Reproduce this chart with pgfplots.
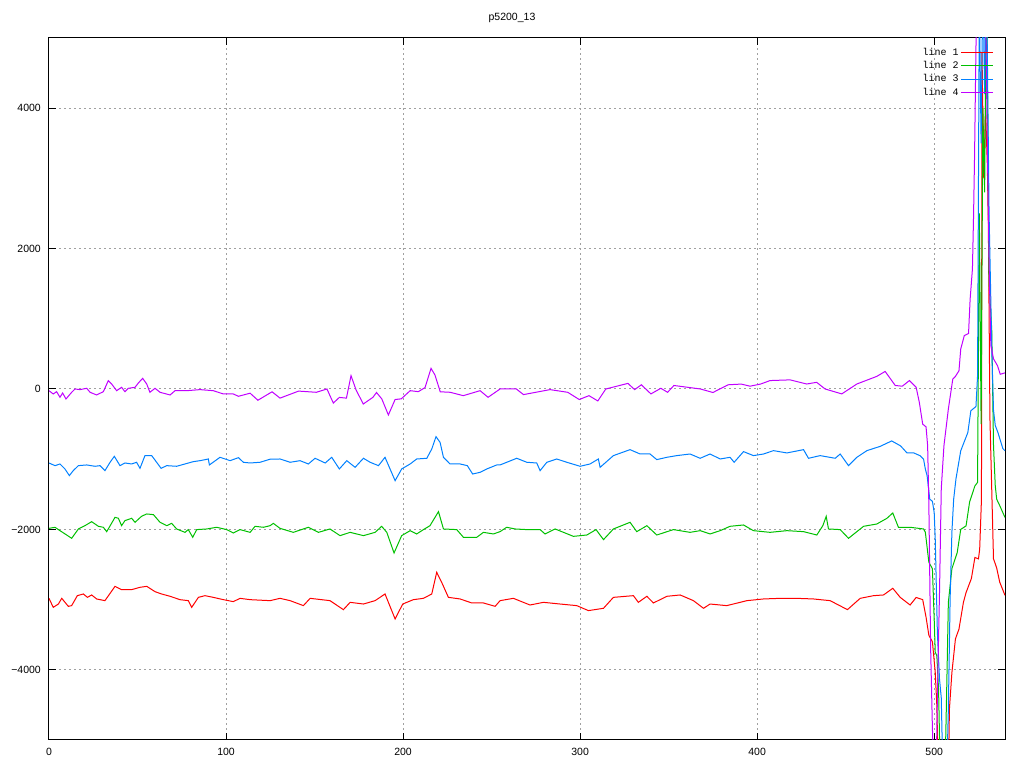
\documentclass[border=0pt]{standalone}
\usepackage{fontspec}
\setmainfont{Liberation Sans}
\newfontfamily\legfont{Liberation Mono}
\usepackage{pgfplots}
\pgfplotsset{compat=1.18}
\definecolor{gpred}{RGB}{255,0,0}
\definecolor{gpgreen}{RGB}{0,192,0}
\definecolor{gpblue}{RGB}{0,128,255}
\definecolor{gpmag}{RGB}{192,0,255}
\definecolor{gpgrid}{RGB}{160,160,160}

\begin{document}
\begin{tikzpicture}
% canvas 1024x768 px, 1px = 1bp, axis box from (49,38) to (1005,740)
\path[use as bounding box] (-49bp,-28bp) rectangle (975bp,740bp);
\begin{axis}[
    at={(0,0)}, anchor=south west,
    scale only axis,
    width=956bp, height=702bp,
    xmin=0, xmax=540,
    ymin=-5000, ymax=5000,
    xtick={0,100,200,300,400,500},
    ytick={-4000,-2000,0,2000,4000},
    yticklabels={−4000,−2000,0,2000,4000},
    scaled y ticks=false,
    tick align=inside,
    major tick length=7bp,
    tick style={black, line width=1bp},
    axis line style={black, line width=1bp},
    grid=major,
    grid style={gpgrid, line width=1bp, dash pattern=on 2bp off 3bp},
    /pgf/number format/assume math mode=true,
    tick label style={font=\fontsize{10.5bp}{12bp}\selectfont},
    yticklabel style={inner sep=0pt, xshift=-8bp},
    xticklabel style={inner sep=0pt, yshift=-8bp},
    every axis plot/.append style={line width=1bp},
    legend style={draw=none, fill=none, at={(rel axis cs:1,1)}, anchor=north east,
        xshift=-8bp, yshift=-6bp, font=\legfont\fontsize{10bp}{11bp}\selectfont,
        nodes={inner sep=2.2bp}},
    legend plot pos=right,
    legend cell align=right,
    legend image code/.code={\draw[#1] (0bp,0bp) -- (32bp,0bp);},
]
% line 1
\addplot[gpred] coordinates {
(0,-2982) (2.4,-3110) (5.3,-3063) (7.2,-2982) (10.9,-3096) (12.8,-3086) (16,-2944)
(19.4,-2920) (21.7,-2968) (24.1,-2934) (26.9,-2991) (31.6,-3015) (37.3,-2811) (41,-2858)
(46.7,-2858) (51.4,-2825) (55.2,-2811) (59.9,-2887) (63.6,-2920) (68.4,-2953) (74,-3001)
(78.7,-3015) (80.6,-3110) (84.4,-2968) (88.1,-2944) (92.8,-2968) (98.5,-3001) (104.1,-3029)
(107.9,-2982) (113.6,-3001) (124.9,-3015) (130.5,-2982) (136.2,-3015) (143.7,-3086)
(147.5,-2982) (158.7,-3015) (166.3,-3143) (170.1,-3039) (177.6,-3063) (184.2,-3015)
(189.8,-2920) (195.5,-3276) (199.8,-3063) (205.8,-3001) (211.5,-2982) (216.2,-2920)
(219,-2611) (221.8,-2754) (225.6,-2968) (232.2,-2991) (238.8,-3048) (245.4,-3048)
(252,-3096) (254.8,-3015) (262.3,-2982) (271.7,-3077) (279.3,-3039) (288.7,-3063)
(298.1,-3086) (304.7,-3157) (313.2,-3124) (318.8,-2968) (330.1,-2944) (332.9,-3039)
(337.7,-2953) (341.4,-3048) (349,-2953) (356.5,-2934) (364,-3015) (369.7,-3124)
(373.4,-3063) (382.8,-3086) (390.4,-3039) (394.2,-3015) (403.6,-2991) (413,-2982)
(422.4,-2982) (431.8,-2991) (441.2,-3015) (451,-3143) (458.2,-2982) (465.7,-2944)
(471.4,-2934) (476.6,-2839) (480.8,-2968) (486.4,-3077) (489.8,-2970) (493.5,-3000)
(495.4,-3250) (497,-3510) (499,-3600) (500.6,-4040) (501.5,-4510) (502.4,-5600)
(508,-5600) (508.6,-4560) (510,-4040) (512,-3560) (514,-3420) (516.5,-3040) (518,-2900)
(521,-2700) (523,-2400) (525,-2420) (525.7,-2280) (526.7,-1570) (527,4800) (528,3000)
(529,4000) (530,3200) (530.6,2300) (531.5,-430) (533.5,-2420) (534.5,-2490)
(535.3,-2550) (537,-2750) (540,-2940)
};
\addlegendentry{line 1}
% line 2
\addplot[gpgreen] coordinates {
(0,-1985) (3.4,-1970) (6.2,-2018) (10,-2080) (12.8,-2127) (16.6,-1994) (20.3,-1947)
(24.1,-1890) (27.9,-1956) (30.7,-1970) (32.6,-2032) (37.3,-1828) (39.2,-1842) (41,-1947)
(42.9,-1875) (46.7,-1842) (48.6,-1899) (52.3,-1813) (55.2,-1780) (59,-1790) (62.7,-1899)
(66.5,-1947) (69.3,-1914) (72.1,-1994) (76.8,-2042) (78.7,-2003) (81.2,-2113)
(83.4,-2003) (89.1,-1994) (94.7,-1970) (100.4,-2003) (104.1,-2051) (107.9,-2003)
(113.6,-2042) (116.4,-1956) (121.1,-1970) (124.9,-1947) (126.7,-1914) (130.5,-1985)
(138,-2042) (146.5,-1970) (152.2,-2042) (158.7,-1994) (164.4,-2089) (170.1,-2042)
(177.6,-2089) (184.2,-2042) (187.9,-1956) (190.8,-2042) (194.9,-2336) (199.2,-2089)
(204,-2018) (207.7,-2065) (211.5,-2003) (215.2,-1947) (220,-1747) (222.8,-1994)
(230.3,-2003) (234.1,-2113) (241.6,-2113) (245.4,-2042) (251,-2065) (254.8,-2032)
(258.5,-1970) (263.3,-1994) (269.9,-2003) (277.4,-2003) (280.2,-2065) (285.9,-1994)
(296.2,-2099) (303.8,-2080) (309,-2003) (313.2,-2146) (318.8,-1994) (328.2,-1899)
(332,-2032) (337.7,-1947) (343.3,-2080) (352.7,-2003) (362.1,-2042) (367.8,-2018)
(373.4,-2065) (379.1,-2018) (384.7,-1956) (392.3,-1937) (397.9,-2018) (407.3,-2042)
(416.8,-2018) (426.2,-2032) (433.7,-2080) (437.1,-1947) (439,-1814) (440.3,-1994)
(446.9,-2003) (451.6,-2127) (460.1,-1956) (467.6,-1923) (473.3,-1842) (476.6,-1766)
(479.8,-1970) (486.4,-1970) (494,-1994) (495,-2040) (497,-2470) (499,-2560)
(500,-3280) (500.6,-3750) (501.5,-3800) (502.5,-4300) (503.5,-5600) (506,-5600)
(507,-4370) (508,-3040) (510,-2560) (513,-2330) (515,-2000) (518,-1950) (520,-1610)
(523,-1380) (524.5,-1330) (525.5,2500) (526.5,-500) (527.5,4000) (528.5,2800)
(529.5,6000) (531,1500) (532.5,850) (533.5,-800) (534.5,-1380) (535.3,-1570)
(537,-1660) (540,-1830)
};
\addlegendentry{line 2}
% line 3
\addplot[gpblue] coordinates {
(0,-1054) (3.4,-1092) (6.2,-1068) (9,-1139) (11.5,-1234) (13.7,-1163) (16.6,-1092)
(21.3,-1082) (26,-1101) (28.8,-1092) (31.6,-1163) (34.5,-1044) (36.9,-959) (40.1,-1092)
(42.9,-1054) (46.7,-1068) (49.5,-1044) (51.4,-1130) (54.2,-949) (58,-949) (60.8,-1044)
(63.3,-1130) (66.5,-1092) (72.1,-1101) (76.8,-1068) (81.5,-1035) (85.3,-1021) (90,-997)
(90.6,-1082) (96.6,-973) (102.3,-1021) (107,-978) (109.8,-1044) (113.6,-1054)
(119.2,-1044) (124.9,-1000) (130.5,-997) (136.2,-1044) (141.8,-1021) (146.5,-1068)
(150.3,-987) (156,-1054) (159.7,-973) (164,-1139) (168.2,-1021) (172.9,-1116)
(177.6,-987) (181.4,-1044) (186.1,-1092) (189.8,-973) (195.5,-1306) (199.2,-1139)
(204,-1068) (207.7,-997) (213.4,-987) (216.2,-855) (218.6,-679) (220.9,-760)
(222.8,-973) (226.5,-1068) (232.2,-1068) (236.3,-1092) (239.3,-1211) (243.5,-1187)
(247.3,-1139) (252.9,-1082) (254.8,-1082) (264.2,-987) (269.9,-1044) (275.5,-1054)
(277.4,-1163) (281.2,-1044) (286.8,-997) (292.5,-1044) (300,-1101) (305.6,-1068)
(310.3,-997) (311.3,-1116) (318.8,-949) (328.2,-864) (333.9,-926) (339.5,-926)
(343.3,-1006) (349,-973) (354.6,-949) (362.1,-926) (367.8,-987) (373.4,-926)
(379.1,-997) (384.7,-973) (387,-1044) (392.3,-892) (397.9,-949) (403.6,-926)
(409.2,-878) (416.8,-911) (426.2,-864) (429,-987) (435.6,-949) (444.1,-987)
(446.9,-926) (451.6,-1092) (456.3,-973) (462,-878) (469.5,-817) (476,-740) (481,-810)
(484.6,-910) (488.4,-910) (492,-950) (494,-1000) (495,-1140) (496,-1235) (497.5,-1570)
(499,-1600) (500,-1760) (500.6,-2140) (501.8,-3470) (503,-4130) (504,-4400)
(505,-5600) (507,-5600) (508,-4560) (509,-2990) (510,-2040) (511,-1570) (512.3,-1280)
(515,-880) (519,-620) (520.7,-310) (523.6,-250) (524.5,190) (525.5,5600) (526.5,3500)
(527.5,5800) (528.5,4200) (529.5,6000) (531,2500) (532.6,500) (533.5,-300)
(534.5,-520) (536,-620) (538.8,-850) (540,-880)
};
\addlegendentry{line 3}
% line 4
\addplot[gpmag] coordinates {
(0,-24) (2.4,-71) (4.3,-38) (6.2,-118) (7.7,-57) (9.6,-142) (12.8,-47) (14.7,0)
(17.5,-9) (21.3,10) (23.2,-47) (26.9,-85) (30.7,-38) (33.5,119) (35.4,71) (38.2,-24)
(41,24) (42.9,-38) (44.8,10) (48.6,24) (50.5,86) (52.9,152) (55.2,71) (57,-47)
(59.9,10) (62.7,-47) (68.4,-85) (71.2,-24) (77.8,-24) (85.3,-9) (92.8,-24) (98.5,-71)
(104.1,-71) (107,-104) (113.6,-60) (118,-160) (126,-40) (130.5,-130) (141,-30)
(151,-47) (157,0) (160.6,-200) (164,-120) (168,-130) (170.6,190) (173.4,-10)
(177.5,-214) (183,-118) (185,-50) (188,-142) (191.7,-370) (195.5,-150) (199,-140)
(204,-24) (208.6,-38) (212.4,20) (215.8,294) (218,200) (221,-40) (226.6,-47)
(234,-95) (243.5,-24) (248,-118) (254.8,0) (264,0) (268,-80) (283,-9) (293,-47)
(299.5,-150) (305,-95) (310,-170) (314.5,0) (327,80) (330.8,-9) (334.6,60) (340,-70)
(345.6,10) (349.4,-47) (353,50) (368,0) (375,-50) (383.6,60) (391,70) (396,40)
(402,71) (407.3,120) (418.6,130) (428,71) (433.6,95) (438.4,0) (447.8,-70)
(456.3,71) (467.6,180) (472.3,250) (478,50) (482,40) (486,120) (489.8,25)
(491.6,-190) (493.5,-500) (495.4,-540) (496.3,-810) (497,-1660) (498,-3700)
(499,-4840) (500,-5600) (501,-5600) (502,-4130) (503,-2900) (504,-1420) (505.5,-810)
(508,-285) (510.5,140) (512,180) (514,260) (515,570) (517,760) (519.4,790)
(520.3,1280) (521.6,1710) (522.2,2420) (522.8,3310) (523.4,4500) (524,5600)
(526,6500) (529,5500) (530,3500) (531,1800) (532,620) (533.5,430) (535.8,330)
(537.3,210) (540,230)
};
\addlegendentry{line 4}
\end{axis}
\node[font=\fontsize{10.5bp}{12bp}\selectfont] at (463bp,722bp) {p5200\_13};
\end{tikzpicture}
\end{document}
